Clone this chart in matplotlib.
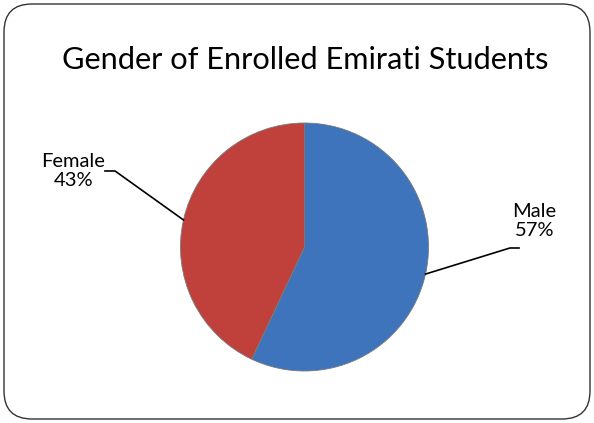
import numpy as np
import matplotlib
matplotlib.use("Agg")
import matplotlib.pyplot as plt
from matplotlib.patches import FancyBboxPatch

labels = ["Male", "Female"]
shares = [57, 43]
colors = ["#3d74bb", "#c0403c"]
title = "Gender of Enrolled Emirati Students"

W, H = 594, 423
plt.rcParams["font.family"] = ["Liberation Sans Narrow", "DejaVu Sans Condensed", "Lato", "DejaVu Sans"]

fig = plt.figure(figsize=(W / 100, H / 100), dpi=100)
renderer = fig.canvas.get_renderer()


def fit_width(txt, target):
    # shrink/grow font so the text spans about `target` pixels
    bb = txt.get_window_extent(renderer)
    txt.set_fontsize(txt.get_fontsize() * target / bb.width)


# background axes in pixel units for frame and title
bg = fig.add_axes([0, 0, 1, 1])
bg.set_xlim(0, W)
bg.set_ylim(H, 0)
bg.axis("off")
bg.add_patch(FancyBboxPatch((4, 4), W - 8, H - 8,
                            boxstyle="round,pad=0,rounding_size=28",
                            facecolor="white", edgecolor="#333333", linewidth=1.0))
t = bg.text(305, 60, title, ha="center", va="center", fontsize=26, color="black")
fit_width(t, 486)

# pie axes: center (304.5, 247) px, radius 124 px
cx, cy, r = 304.5, 247, 124
ax = fig.add_axes([(cx - r) / W, (H - cy - r) / H, 2 * r / W, 2 * r / H])
wedges, _ = ax.pie(shares, colors=colors, startangle=90, counterclock=False,
                   wedgeprops=dict(linewidth=0.6, edgecolor="#7a7a7a"))
ax.set_xlim(-1, 1)
ax.set_ylim(-1, 1)
ax.set_aspect("equal")

# label positions (data units of radius) and elbow points
text_pos = {"Male": (1.855, 0.21), "Female": (-1.865, 0.613)}
elbow = {"Male": ((1.73, -0.008), (1.657, -0.008)),
         "Female": ((-1.609, 0.613), (-1.528, 0.613))}

for w, lab, s in zip(wedges, labels, shares):
    mid = np.deg2rad((w.theta1 + w.theta2) / 2)
    edge = (np.cos(mid), np.sin(mid))
    (x0, y0), (x1, y1) = elbow[lab]
    ax.plot([x0, x1, edge[0]], [y0, y1, edge[1]], color="black",
            linewidth=1.2, clip_on=False)
    tx, ty = text_pos[lab]
    ax.text(tx, ty, f"{lab}\n{s}%", ha="center", va="center",
            fontsize=14.5, linespacing=1.15, clip_on=False)

fig.savefig("out.png", dpi=100)
